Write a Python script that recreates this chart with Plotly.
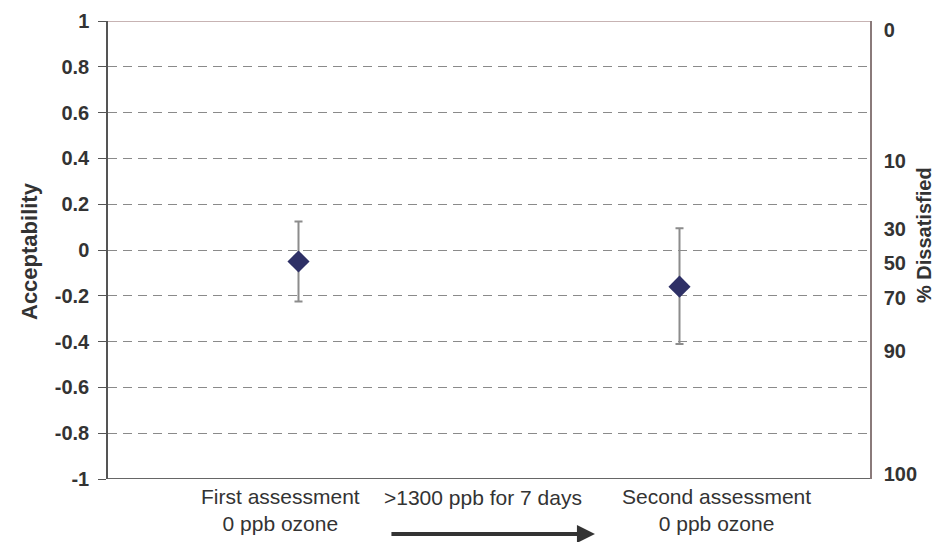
import plotly.graph_objects as go

categories = ["First assessment<br>0 ppb ozone", "Second assessment<br>0 ppb ozone"]
cat_pos = [1, 2]
acceptability = [-0.05, -0.16]
err_plus = [0.175, 0.255]
err_minus = [0.175, 0.25]
y_ticks = [1, 0.8, 0.6, 0.4, 0.2, 0, -0.2, -0.4, -0.6, -0.8, -1]
y_ticklabels = ["1", "0.8", "0.6", "0.4", "0.2", "0", "-0.2", "-0.4", "-0.6", "-0.8", "-1"]
ppd_vals = [0.96, 0.39, 0.09, -0.055, -0.21, -0.44, -0.98]
ppd_labels = ["0", "10", "30", "50", "70", "90", "100"]
middle_label = ">1300 ppb for 7 days"

# layout placement of the text boxes below the axis (data-x units)
label_x = [0.954, 2.098]
middle_x = 1.484
arrow_from, arrow_to = 1.24, 1.778

FONT = "Liberation Sans, Arial"
# plot area spans screen x 108..870, y 21..479
PW, PH = 762, 458
fig = go.Figure()
fig.add_trace(go.Scatter(
    x=cat_pos, y=acceptability, mode="markers",
    marker=dict(symbol="diamond", size=17, color="#2E3066"),
    error_y=dict(type="data", symmetric=False, array=err_plus, arrayminus=err_minus,
                 color="#8C8C8C", thickness=2, width=4),
    showlegend=False, cliponaxis=False,
))
fig.add_trace(go.Scatter(x=cat_pos, y=acceptability, yaxis="y2", mode="markers",
                         marker=dict(opacity=0), showlegend=False, hoverinfo="skip"))

annotations = [
    dict(x=(30 - 108) / PW, xref="paper", y=(479 - 251) / PH, yref="paper",
         xanchor="center", yanchor="middle",
         text="<b>Acceptability</b>", textangle=-90, showarrow=False,
         font=dict(family=FONT, size=22, color="#333333")),
    dict(x=(924 - 108) / PW, xref="paper", y=(479 - 235) / PH, yref="paper",
         xanchor="center", yanchor="middle",
         text="<b>% Dissatisfied</b>", textangle=-90, showarrow=False,
         font=dict(family=FONT, size=20, color="#333333")),
    dict(x=middle_x, xref="x", y=(479 - 497) / PH, yref="paper", text=middle_label,
         xanchor="center", yanchor="middle",
         showarrow=False, font=dict(family=FONT, size=21, color="#333333")),
    dict(x=arrow_to, y=(479 - 534) / PH, xref="x", yref="paper", ax=arrow_from, ay=0,
         axref="x", ayref="pixel", text="", showarrow=True,
         arrowhead=2, arrowsize=0.9, arrowwidth=4, arrowcolor="#333333"),
]
for lx, txt in zip(label_x, categories):
    annotations.append(dict(x=lx, xref="x", y=(479 - 510) / PH, yref="paper", text=txt,
                            xanchor="center", yanchor="middle", align="center",
                            showarrow=False, font=dict(family=FONT, size=21, color="#333333")))

fig.update_layout(
    width=934, height=542,
    margin=dict(l=108, r=64, t=21, b=63),
    paper_bgcolor="white", plot_bgcolor="white",
    xaxis=dict(range=[0.5, 2.5], showticklabels=False, automargin=False,
               showgrid=False, zeroline=False, showline=False, ticks=""),
    yaxis=dict(range=[-1, 1], tickvals=y_ticks, ticktext=y_ticklabels, automargin=False,
               showgrid=True, gridcolor="#8A8A8A", griddash="9px,6px", gridwidth=1,
               zeroline=False, showline=True, linecolor="#555555", linewidth=1.5,
               ticks="outside", ticklen=8, tickcolor="#555555", ticklabelstandoff=5,
               tickfont=dict(family=FONT, size=20, color="#333333", weight="bold")),
    yaxis2=dict(range=[-1, 1], overlaying="y", side="right", tickvals=ppd_vals, ticktext=ppd_labels,
                automargin=False, showgrid=False, zeroline=False, showline=True,
                linecolor="#8A7A7A", linewidth=1.5, ticks="", ticklabelstandoff=8,
                tickfont=dict(family=FONT, size=20, color="#333333", weight="bold")),
    shapes=[
        dict(type="line", xref="paper", yref="y", x0=0, x1=1, y0=1, y1=1,
             line=dict(color="#B59A9A", width=1.5)),
        dict(type="line", xref="paper", yref="y", x0=0, x1=1, y0=-1, y1=-1,
             line=dict(color="#333333", width=1.5)),
    ],
    annotations=annotations,
)
fig.write_html("out.html", config={"displayModeBar": False},
               post_script="document.body.style.margin='0px';document.body.style.overflow='hidden';")
